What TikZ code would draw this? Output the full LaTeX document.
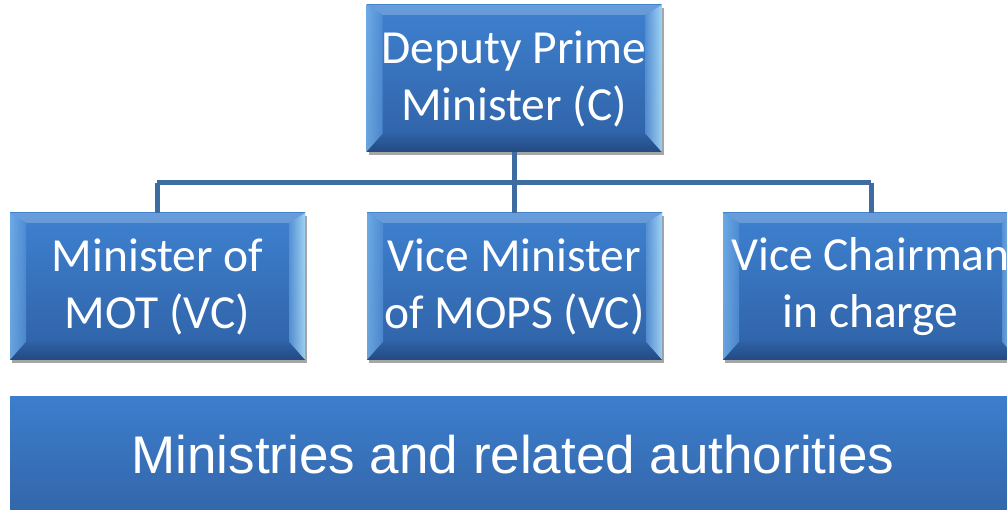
\documentclass[tikz,border=0pt]{standalone}
\usepackage{fontspec}
\setmainfont{Carlito}
\newfontfamily\arialfont{Liberation Sans}
\usetikzlibrary{shadows}
\definecolor{boxtop}{RGB}{62,129,208}
\definecolor{boxbot}{RGB}{47,97,165}
\definecolor{conn}{RGB}{62,108,160}
\definecolor{barTop}{RGB}{60,126,205}
\definecolor{barBot}{RGB}{50,98,163}
\tikzset{
  bevelbox/.style={rectangle, minimum width=295pt, minimum height=147pt, inner sep=0pt,
    top color=boxtop, bottom color=boxbot, text=white, align=center,
    font=\fontsize{47.5}{57}\selectfont,
    drop shadow={shadow xshift=2pt, shadow yshift=-3pt, opacity=0.35, fill=black},
    path picture={
      % top bevel
      \fill[white, opacity=0.22] (path picture bounding box.north west) -- (path picture bounding box.north east)
        -- ([xshift=-16pt,yshift=-10pt]path picture bounding box.north east)
        -- ([xshift=16pt,yshift=-10pt]path picture bounding box.north west) -- cycle;
      % left bevel
      \shade[left color={rgb,255:red,120;green,180;blue,235}, right color=boxtop!90!white, opacity=0.8]
        (path picture bounding box.north west)
        -- ([xshift=16pt,yshift=-10pt]path picture bounding box.north west)
        -- ([xshift=16pt,yshift=18pt]path picture bounding box.south west)
        -- (path picture bounding box.south west) -- cycle;
      % right bevel
      \shade[left color=boxtop!85!white, right color={rgb,255:red,175;green,225;blue,250}, opacity=0.85]
        (path picture bounding box.north east)
        -- ([xshift=-16pt,yshift=-10pt]path picture bounding box.north east)
        -- ([xshift=-16pt,yshift=18pt]path picture bounding box.south east)
        -- (path picture bounding box.south east) -- cycle;
      % bottom bevel
      \shade[top color=boxbot, bottom color={rgb,255:red,35;green,72;blue,125}, opacity=0.9]
        (path picture bounding box.south west)
        -- ([xshift=16pt,yshift=18pt]path picture bounding box.south west)
        -- ([xshift=-16pt,yshift=18pt]path picture bounding box.south east)
        -- (path picture bounding box.south east) -- cycle;
    }},
  connector/.style={draw=conn, line width=5pt, line join=round},
  barbox/.style={rectangle, minimum width=1040pt, minimum height=134pt, inner sep=0pt,
    top color=barTop, bottom color=barBot,
    drop shadow={shadow xshift=1pt, shadow yshift=-2pt, opacity=0.3, fill=black}},
  bartext/.style={text=white, font=\arialfont\fontsize{53}{60}\selectfont, inner sep=0pt}
}
\begin{document}
\begin{tikzpicture}[x=1pt,y=1pt]
\useasboundingbox (0,0) rectangle (1007,509);
\clip (0,0) rectangle (1007,509);
\fill[white] (0,0) rectangle (1007,509);
% connectors
\coordinate (hl) at (157,326);
\coordinate (hm) at (514,326);
\coordinate (hr) at (871,326);
\node[bevelbox] (dpm) at (514,430.5) {Deputy Prime\\Minister (C)};
\draw[connector] (dpm.south) -- (hm);
\draw[connector] (hl) -- (hr);
\node[bevelbox] (mot) at (157.5,222.5) {Minister of\\MOT (VC)};
\node[bevelbox] (mops) at (514.5,222.5) {Vice Minister\\of MOPS (VC)};
\node[bevelbox] (vc) at (870.5,222.5) {Vice Chairman\\in charge};
\draw[connector] (hl) -- (mot.north -| hl);
\draw[connector] (hm) -- (mops.north -| hm);
\draw[connector] (hr) -- (vc.north -| hr);
\node[barbox] (bar) at (530,45) {};
\node[bartext, anchor=base] (bart) at (513,35) {Ministries and related authorities};
\end{tikzpicture}
\end{document}
